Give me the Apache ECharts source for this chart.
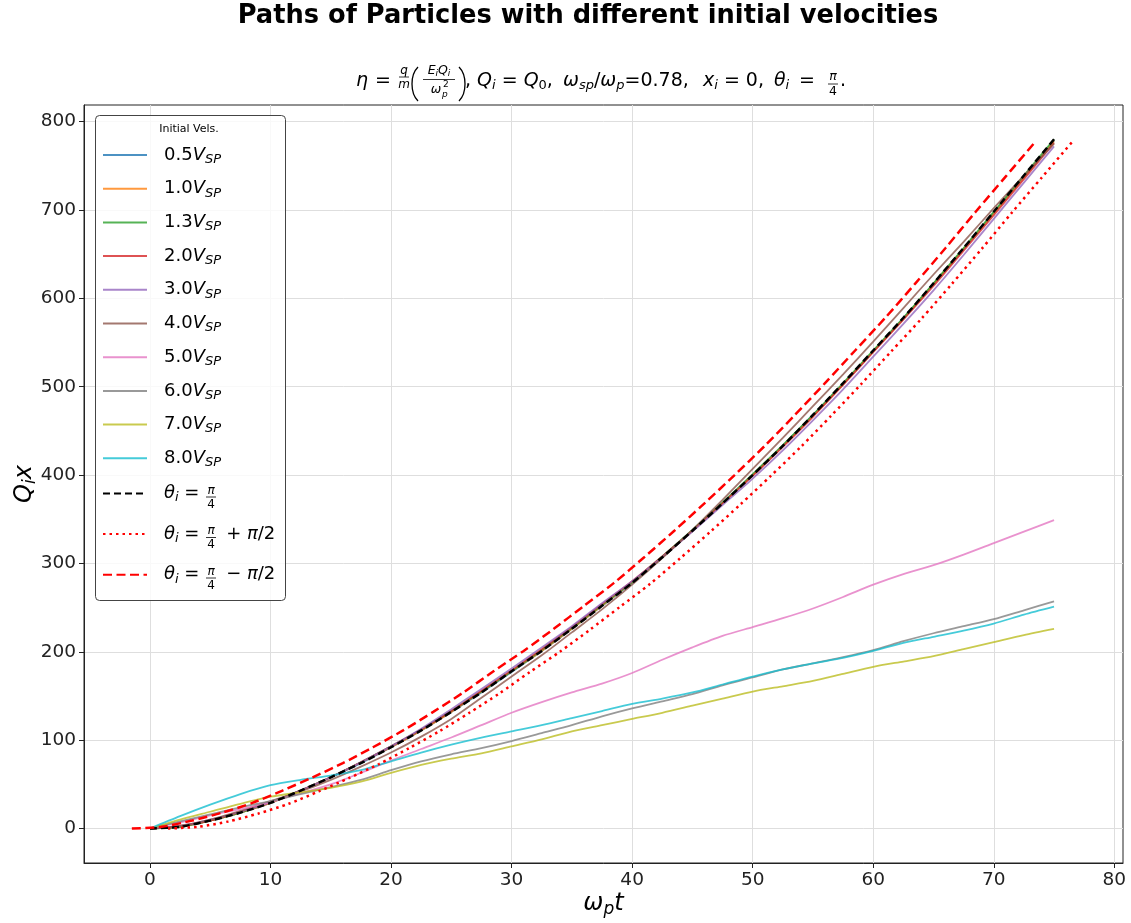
<!DOCTYPE html>
<html>
<head>
<meta charset="utf-8">
<title>Paths of Particles with different initial velocities</title>
<script src="https://cdn.jsdelivr.net/npm/echarts@6/dist/echarts.min.js"></script>
<style>
  html, body { margin: 0; padding: 0; background: #fff; }
  #chart { width: 1131px; height: 923px; }
</style>
</head>
<body>
<div id="chart"></div>
<script>
// sample times (omega_p t) of the velocity curves
const tGrid = [0, 2.5, 5, 7.5, 10, 12.5, 15, 17.5, 20, 22.5, 25, 27.5, 30, 32.5, 35, 37.5, 40, 42.5, 45, 47.5, 50, 52.5, 55, 57.5, 60, 62.5, 65, 67.5, 70, 72.5, 75];

// Q_i x for each initial velocity
const vel05 = [0, 2, 9, 18, 29, 43, 58, 74, 92, 111, 132, 154, 177, 201, 226, 252, 278, 307, 337, 368, 400, 433, 468, 503, 540, 577, 616, 656, 697, 737, 778];
const vel10 = [0, 2, 9, 18, 29, 43, 58, 75, 92, 111, 132, 155, 178, 201, 226, 252, 279, 307, 337, 368, 400, 433, 467, 503, 540, 577, 616, 656, 696, 737, 778];
const vel13 = [0, 2, 9, 18, 30, 43, 58, 75, 93, 112, 133, 155, 178, 202, 227, 253, 279, 308, 338, 369, 401, 434, 468, 504, 541, 578, 617, 657, 698, 739, 780];
const vel20 = [0, 3, 9, 19, 30, 43, 58, 75, 93, 112, 133, 156, 179, 203, 228, 254, 280, 308, 337, 368, 399, 432, 466, 502, 539, 576, 614, 654, 694, 735, 776];
const vel30 = [0, 3, 10, 19, 30, 43, 58, 75, 93, 113, 135, 158, 181, 205, 229, 255, 280, 307, 336, 366, 396, 428, 462, 497, 534, 571, 609, 649, 690, 731, 772];
const vel40 = [0, 3, 10, 20, 31, 42, 55, 70, 86, 104, 124, 148, 172, 196, 222, 248, 276, 306, 338, 372, 407, 442, 478, 514, 551, 589, 627, 664, 702, 739, 775];
const vel50 = [0, 7, 15, 22, 30, 40, 50, 63, 77, 90, 103, 117, 131, 143, 154, 164, 176, 191, 205, 218, 228, 238, 249, 262, 276, 288, 298, 310, 323, 336, 349];
const vel60 = [0, 8, 16, 24, 31, 39, 47, 55, 66, 76, 84, 91, 99, 108, 117, 127, 136, 144, 152, 162, 171, 180, 187, 194, 202, 212, 221, 229, 237, 247, 257];
const vel70 = [0, 10, 19, 28, 36, 41, 46, 53, 63, 72, 79, 85, 93, 101, 110, 117, 124, 131, 139, 147, 155, 161, 167, 175, 183, 189, 195, 203, 211, 219, 226];
const vel80 = [0, 14, 27, 39, 49, 55, 60, 66, 76, 86, 95, 103, 110, 117, 125, 133, 141, 147, 154, 163, 172, 180, 187, 193, 201, 210, 217, 224, 232, 242, 251];

// reference paths for the three launch angles
const thetaQuarter = [0, 2, 9, 18, 29, 43, 58, 74, 92, 111, 132, 154, 178, 201, 226, 252, 278, 307, 337, 368, 400, 433, 468, 504, 541, 578, 617, 657, 698, 739, 780];
const tPlus = [1.5, 4, 6.5, 9, 11.5, 14, 16.5, 19, 21.5, 24, 26.5, 29, 31.5, 34, 36.5, 39, 41.5, 44, 46.5, 49, 51.5, 54, 56.5, 59, 61.5, 64, 66.5, 69, 71.5, 74, 76.5];
const thetaPlus = [0, 2, 8, 17, 28, 42, 57, 73, 91, 110, 131, 153, 177, 200, 225, 251, 277, 306, 336, 367, 399, 432, 467, 503, 540, 577, 616, 656, 697, 737, 777];
const tMinus = [-1.5, 1, 3.5, 6, 8.5, 11, 13.5, 16, 18.5, 21, 23.5, 26, 28.5, 31, 33.5, 36, 38.5, 41, 43.5, 46, 48.5, 51, 53.5, 56, 58.5, 61, 63.5, 66, 68.5, 71, 73.5];
const thetaMinus = [0, 2, 9, 18, 29, 43, 58, 74, 92, 111, 132, 154, 178, 201, 226, 252, 278, 307, 337, 368, 400, 433, 468, 504, 541, 578, 617, 657, 698, 738, 778];

// axis ticks
const xTicks = [0, 10, 20, 30, 40, 50, 60, 70, 80];
const yTicks = [0, 100, 200, 300, 400, 500, 600, 700, 800];

const velNames = ['0.5', '1.0', '1.3', '2.0', '3.0', '4.0', '5.0', '6.0', '7.0', '8.0'];
const velData = [vel05, vel10, vel13, vel20, vel30, vel40, vel50, vel60, vel70, vel80];
const angleNames = ['theta=pi/4', 'theta=pi/4+pi/2', 'theta=pi/4-pi/2'];
const tab10 = ['#1f77b4', '#ff7f0e', '#2ca02c', '#d62728', '#9467bd', '#8c564b', '#e377c2', '#7f7f7f', '#bcbd22', '#17becf'];

const FONT = '"DejaVu Sans", sans-serif';

function pairs(xs, ys) {
    return xs.map((x, i) => [x, ys[i]]);
}

const series = [];
velNames.forEach((v, i) => {
    series.push({
        name: v + 'V_SP',
        type: 'line',
        symbol: 'none',
        smooth: 0.25,
        data: pairs(tGrid, velData[i]),
        lineStyle: { color: tab10[i], width: 1.8, opacity: 0.8 },
        itemStyle: { color: tab10[i] }
    });
});
series.push({
    name: angleNames[0], type: 'line', symbol: 'none', smooth: 0.25,
    data: pairs(tGrid, thetaQuarter),
    lineStyle: { color: '#000', width: 2.5, type: [7, 4] },
    itemStyle: { color: '#000' }
});
series.push({
    name: angleNames[1], type: 'line', symbol: 'none', smooth: 0.25,
    data: pairs(tPlus, thetaPlus),
    lineStyle: { color: '#ff0000', width: 2.5, type: [2.5, 4] },
    itemStyle: { color: '#ff0000' }
});
series.push({
    name: angleNames[2], type: 'line', symbol: 'none', smooth: 0.25,
    data: pairs(tMinus, thetaMinus),
    lineStyle: { color: '#ff0000', width: 2.5, type: [9, 4.5] },
    itemStyle: { color: '#ff0000' }
});

const legendRich = {
    p: { width: 12, fontSize: 18, lineHeight: 22 },
    n: { fontFamily: FONT, fontSize: 18, lineHeight: 22, color: '#000' },
    it: { fontFamily: FONT, fontSize: 18, fontStyle: 'italic', lineHeight: 22, color: '#000' },
    sub: { fontFamily: FONT, fontSize: 13, fontStyle: 'italic', lineHeight: 13, padding: [9, 0, 0, 0], color: '#000' },
    fr: { width: 21, lineHeight: 22, fontSize: 18, color: '#fff' }
};
const legendText = {};
velNames.forEach(v => { legendText[v + 'V_SP'] = '{p| }{n|' + v + '}{it|V}{sub|SP}'; });
legendText[angleNames[0]] = '{p| }{it|θ}{sub|i}{n| = }{fr| }';
legendText[angleNames[1]] = '{p| }{it|θ}{sub|i}{n| = }{fr| }{n|+ }{it|π}{n|/2}';
legendText[angleNames[2]] = '{p| }{it|θ}{sub|i}{n| = }{fr| }{n|− }{it|π}{n|/2}';

const legendBase = {
    orient: 'vertical', left: 102, padding: 0,
    itemWidth: 44, itemHeight: 12,
    itemStyle: { opacity: 0, borderWidth: 0 },
    formatter: name => legendText[name],
    textStyle: { fontFamily: FONT, fontSize: 18, color: '#000', rich: legendRich }
};

// stacked fractions drawn as plain text
function fraction(cx, cy, top, bottom, size, halfBar, bottomItalic) {
    return [
        { type: 'text', x: cx, y: cy - size * 0.55, z: 100, style: { text: top, font: 'italic ' + size + 'px ' + FONT, align: 'center', verticalAlign: 'middle', fill: '#000' } },
        { type: 'line', z: 100, shape: { x1: cx - halfBar, y1: cy, x2: cx + halfBar, y2: cy }, style: { stroke: '#000', lineWidth: 0.8 } },
        { type: 'text', x: cx, y: cy + size * 0.62, z: 100, style: { text: bottom, font: (bottomItalic ? 'italic ' : '') + size + 'px ' + FONT, align: 'center', verticalAlign: 'middle', fill: '#000' } }
    ];
}

const subRich = {
    n: { fontFamily: FONT, fontSize: 19, lineHeight: 26, color: '#000' },
    it: { fontFamily: FONT, fontSize: 19, fontStyle: 'italic', lineHeight: 26, color: '#000' },
    sub: { fontFamily: FONT, fontSize: 13, fontStyle: 'italic', lineHeight: 13, padding: [10, 0, 0, 0], color: '#000' },
    sub0: { fontFamily: FONT, fontSize: 13, lineHeight: 13, padding: [10, 0, 0, 0], color: '#000' }
};
function subText(x, text) {
    return { type: 'text', x: x, y: 81, style: { text: text, align: 'left', verticalAlign: 'middle', rich: subRich } };
}

const graphic = [
    { type: 'text', x: 362, y: 81, style: { text: 'η', font: 'italic 19px ' + FONT, align: 'center', verticalAlign: 'middle', fill: '#000' } },
    { type: 'text', x: 383, y: 81, style: { text: '=', font: '19px ' + FONT, align: 'center', verticalAlign: 'middle', fill: '#000' } },
    ...fraction(404, 77, 'q', 'm', 12, 5, true),
    { type: 'bezierCurve', shape: { x1: 418, y1: 67, x2: 418, y2: 101, cpx1: 410, cpy1: 75, cpx2: 410, cpy2: 93 }, style: { stroke: '#000', lineWidth: 1.3, fill: null } },
    { type: 'text', x: 439, y: 71, style: { text: '{it|E}{s|i}{it|Q}{s|i}', align: 'center', verticalAlign: 'middle', rich: {
        it: { fontFamily: FONT, fontSize: 12.5, fontStyle: 'italic', lineHeight: 16, color: '#000' },
        s: { fontFamily: FONT, fontSize: 9, fontStyle: 'italic', lineHeight: 9, padding: [6, 0, 0, 0], color: '#000' } } } },
    { type: 'line', shape: { x1: 423, y1: 79.5, x2: 455, y2: 79.5 }, style: { stroke: '#000', lineWidth: 0.8 } },
    { type: 'text', x: 436, y: 90, style: { text: 'ω', font: 'italic 12.5px ' + FONT, align: 'center', verticalAlign: 'middle', fill: '#000' } },
    { type: 'text', x: 443, y: 85, style: { text: '2', font: '9px ' + FONT, align: 'left', verticalAlign: 'middle', fill: '#000' } },
    { type: 'text', x: 442, y: 95, style: { text: 'p', font: 'italic 9px ' + FONT, align: 'left', verticalAlign: 'middle', fill: '#000' } },
    { type: 'bezierCurve', shape: { x1: 459, y1: 67, x2: 459, y2: 101, cpx1: 467, cpy1: 75, cpx2: 467, cpy2: 93 }, style: { stroke: '#000', lineWidth: 1.3, fill: null } },
    subText(465, '{n|, }{it|Q}{sub|i}{n| = }{it|Q}{sub0|0}{n|,}'),
    subText(563, '{it|ω}{sub|sp}{n|/}{it|ω}{sub|p}{n|=0.78,}'),
    subText(703, '{it|x}{sub|i}{n| = 0,}'),
    subText(774, '{it|θ}{sub|i}{n| \u2009=}'),
    ...fraction(833, 84, 'π', '4', 12.5, 5, false),
    { type: 'text', x: 843, y: 81, style: { text: '.', font: '19px ' + FONT, align: 'center', verticalAlign: 'middle', fill: '#000' } },
    // legend frame, title and the pi/4 pieces of the angle entries
    { type: 'rect', z: 3, shape: { x: 95.5, y: 115.5, width: 190, height: 485, r: 4 }, style: { fill: 'rgba(255,255,255,0.8)', stroke: '#444', lineWidth: 1 } },
    { type: 'text', x: 189, y: 129, z: 100, style: { text: 'Initial Vels.', font: '11px ' + FONT, align: 'center', verticalAlign: 'middle', fill: '#000' } },
    ...fraction(211, 497, 'π', '4', 12, 5, false),
    ...fraction(211, 537.5, 'π', '4', 12, 5, false),
    ...fraction(211, 578, 'π', '4', 12, 5, false)
];

const chart = echarts.init(document.getElementById('chart'));
chart.setOption({
    animation: false,
    backgroundColor: '#fff',
    title: {
        text: 'Paths of Particles with different initial velocities',
        left: 583, top: -2, textAlign: 'center',
        textStyle: { fontFamily: FONT, fontSize: 25.7, fontWeight: 'bold', color: '#000' }
    },
    grid: { left: 84, right: 8, top: 105, bottom: 60, show: true, borderColor: '#222', borderWidth: 1, outerBoundsMode: 'none', containLabel: false },
    legend: [
        Object.assign({}, legendBase, { top: 144, itemGap: 11.7, data: series.slice(0, 10).map(s => s.name) }),
        Object.assign({}, legendBase, { top: 482.5, itemGap: 18.6, data: angleNames })
    ],
    xAxis: {
        type: 'value', min: -5.47, max: 80.72,
        name: '{it|ω}{sub|p}{it|t}', nameLocation: 'middle', nameGap: 26, nameMoveOverlap: false,
        nameTextStyle: { rich: {
            it: { fontFamily: FONT, fontSize: 24, fontStyle: 'italic', lineHeight: 30, color: '#000' },
            sub: { fontFamily: FONT, fontSize: 17, fontStyle: 'italic', lineHeight: 17, padding: [12, 0, 0, 0], color: '#000' } } },
        axisLine: { show: true, onZero: false, lineStyle: { color: '#222', width: 1 } },
        axisTick: { show: true, length: 5, customValues: xTicks, lineStyle: { color: '#222' } },
        axisLabel: { customValues: xTicks, fontFamily: FONT, fontSize: 18.5, color: '#222', margin: 8 },
        splitLine: { show: true, lineStyle: { color: '#dedede', width: 1 } }
    },
    yAxis: {
        type: 'value', min: -39, max: 818.8,
        name: '{it|Q}{sub|i}{it|x}', nameLocation: 'middle', nameGap: 44, nameRotate: 90, nameMoveOverlap: false,
        nameTextStyle: { rich: {
            it: { fontFamily: FONT, fontSize: 24, fontStyle: 'italic', lineHeight: 30, color: '#000' },
            sub: { fontFamily: FONT, fontSize: 17, fontStyle: 'italic', lineHeight: 17, padding: [12, 0, 0, 0], color: '#000' } } },
        axisLine: { show: true, onZero: false, lineStyle: { color: '#222', width: 1 } },
        axisTick: { show: true, length: 5, customValues: yTicks, lineStyle: { color: '#222' } },
        axisLabel: { customValues: yTicks, fontFamily: FONT, fontSize: 18.5, color: '#222', margin: 8 },
        splitLine: { show: true, lineStyle: { color: '#dedede', width: 1 } }
    },
    graphic: graphic,
    series: series
});
</script>
</body>
</html>
